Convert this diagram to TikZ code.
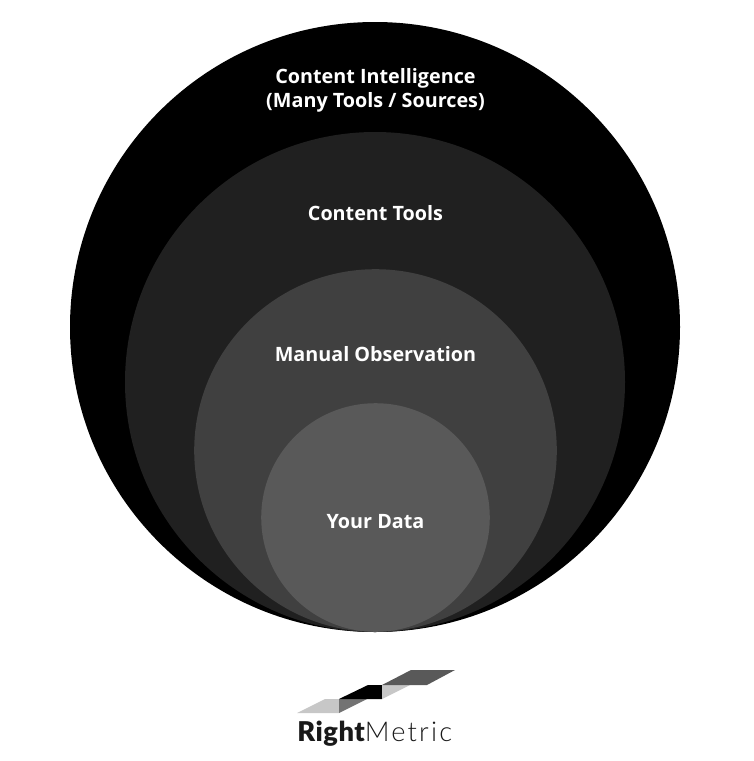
\documentclass[tikz,border=0pt]{standalone}
\usepackage{fontspec}
\setmainfont{Open Sans}
\newfontfamily\logofont{Lato Black}
\newfontfamily\logothin{Lato Light}
\usetikzlibrary{calc}
\definecolor{ringa}{HTML}{000000}
\definecolor{ringb}{HTML}{202020}
\definecolor{ringc}{HTML}{404040}
\definecolor{ringd}{HTML}{595959}
\tikzset{
  ringlabel/.style={text=white,font=\fontsize{11.25}{13.6}\selectfont\bfseries,align=center,inner sep=0pt},
  logolight/.style={fill=black!22},
  logomid/.style={fill=black!55},
  logodark/.style={fill=black!65}
}

\begin{document}
\begin{tikzpicture}[x=0.02cm,y=-0.02cm]
    \useasboundingbox (0,0) rectangle (754,761);

    \fill[ringa] (375,327) circle (305);
    \fill[ringb] (375,382) circle (250);
    \fill[ringc] (375.5,450.5) circle (181.3);
    \fill[ringd] (375.5,517.5) circle (114.3);

    \node[ringlabel] (intelligence) at (375.5,90.5) {Content Intelligence\\(Many Tools / Sources)};
    \node[ringlabel] (tools) at (375.5,213.5) {Content Tools};
    \node[ringlabel] (manual) at (375.5,354.5) {Manual Observation};
    \node[ringlabel] (data) at (375.5,521.5) {Your Data};

    % logo
    \fill[logolight] (297,713) -- (325,699) -- (339,699) -- (339,713) -- cycle;
    \fill[logomid] (339,699) -- (367,699) -- (339,713) -- cycle;
    \fill[black] (339,699) -- (368,685) -- (382,685) -- (382,699) -- cycle;
    \fill[logolight] (382,685) -- (410,685) -- (382,699) -- cycle;
    \fill[logodark] (382,685) -- (411,670) -- (455,670) -- (427,685) -- cycle;
    \node[anchor=base west,inner sep=0pt,text=black!90,font=\fontsize{15.5}{20}\selectfont] (logo) at (297,741)
      {{\logofont\addfontfeature{LetterSpace=2}Right}{\logothin\addfontfeature{LetterSpace=8}Metric}};
\end{tikzpicture}
\end{document}
